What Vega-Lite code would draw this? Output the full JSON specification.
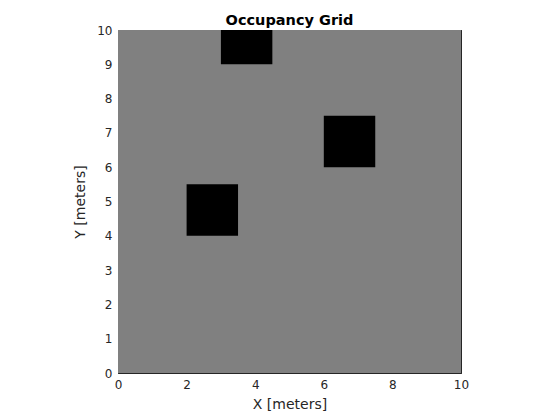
{
  "$schema": "https://vega.github.io/schema/vega-lite/v6.json",
  "autosize": "none",
  "width": 343,
  "height": 343,
  "padding": {"left": 118, "top": 30, "right": 99, "bottom": 47},
  "background": "white",
  "config": {
    "font": "DejaVu Sans",
    "view": {"stroke": "#262626", "strokeWidth": 1},
    "axis": {"grid": false, "domain": false, "tickColor": "#262626", "tickSize": -4, "labelColor": "#262626", "labelFont": "DejaVu Sans", "labelFontSize": 12, "labelFlush": false, "titleFont": "DejaVu Sans", "titleFontSize": 14, "titleFontWeight": "normal", "titleColor": "#262626", "labelPadding": 10}
  },
  "title": {"text": "Occupancy Grid", "fontSize": 14.5, "fontWeight": "bold", "font": "DejaVu Sans", "color": "#000000", "offset": -4},
  "data": {"values": [
    {"x": 0, "x2": 10, "y": 0, "y2": 10, "occupancy": "unknown"},
    {"x": 2, "x2": 3.5, "y": 4, "y2": 5.5, "occupancy": "occupied"},
    {"x": 6, "x2": 7.5, "y": 6, "y2": 7.5, "occupancy": "occupied"},
    {"x": 3, "x2": 4.5, "y": 9, "y2": 10, "occupancy": "occupied"}
  ]},
  "layer": [
    {
      "mark": {"type": "rect"},
      "encoding": {
        "x": {"field": "x", "type": "quantitative", "scale": {"domain": [0, 10], "nice": false, "zero": false}, "axis": {"orient": "bottom", "values": [0, 2, 4, 6, 8, 10], "title": "X [meters]", "titlePadding": 7}},
        "x2": {"field": "x2"},
        "y": {"field": "y", "type": "quantitative", "scale": {"domain": [0, 10], "nice": false, "zero": false}, "axis": {"orient": "left", "values": [0, 1, 2, 3, 4, 5, 6, 7, 8, 9, 10], "title": "Y [meters]", "titlePadding": 9}},
        "y2": {"field": "y2"},
        "color": {"field": "occupancy", "type": "nominal", "scale": {"domain": ["unknown", "occupied"], "range": ["#808080", "#000000"]}, "legend": null}
      }
    },
    {
      "mark": {"type": "rule", "opacity": 0},
      "encoding": {
        "x": {"field": "x", "type": "quantitative", "axis": {"orient": "top", "values": [0, 2, 4, 6, 8, 10], "labels": false, "title": null}},
        "y": {"field": "y", "type": "quantitative", "axis": {"orient": "right", "values": [0, 1, 2, 3, 4, 5, 6, 7, 8, 9, 10], "labels": false, "title": null}}
      }
    }
  ],
  "resolve": {"axis": {"x": "independent", "y": "independent"}}
}
